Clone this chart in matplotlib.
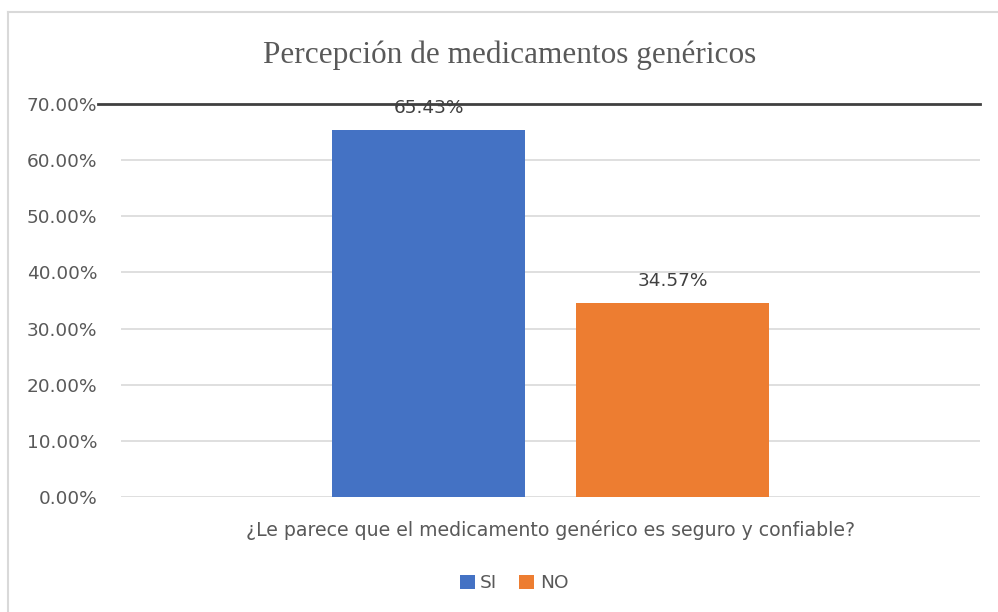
import matplotlib.pyplot as plt
from matplotlib.patches import Patch
from matplotlib.lines import Line2D

# data
series = ['SI', 'NO']
values = [65.43, 34.57]
colors = ['#4472C4', '#ED7D31']
yticks = [0, 10, 20, 30, 40, 50, 60, 70]
title = 'Percepción de medicamentos genéricos'
category = '¿Le parece que el medicamento genérico es seguro y confiable?'

W, H = 998, 612
fig = plt.figure(figsize=(W/100, H/100), dpi=100)
plt.rcParams['font.family'] = ['DejaVu Sans']

# plot area in pixels: x 121..980, y 104 (70%)..497 (0%)
ax = fig.add_axes([121/W, (H-497)/H, (980-121)/W, (497-104)/H])

# bars in units of bar width: gap between the two bars is ~0.264 width
bw = 1.0
offs = [-(0.5 + 0.132), 0.5 + 0.132]
for off, v, c in zip(offs, values, colors):
    b = ax.bar(off, v, width=bw, color=c, zorder=3)
    ax.bar_label(b, labels=[f'{v:.2f}%'], padding=9, fontsize=13.3, color='#404040')

ax.set_xlim(-2.225, 2.225)
ax.set_ylim(0, 70)
ax.set_yticks(yticks)
ax.set_yticklabels([f'{t:.2f}%' for t in yticks])
ax.set_xticks([])
ax.tick_params(axis='y', length=0, pad=17, labelsize=13.3, labelcolor='#595959')
ax.yaxis.grid(True, color='#D9D9D9', lw=1.2, zorder=0)
for s in ax.spines.values():
    s.set_visible(False)

# dark line across the top at 70%
ax.axhline(70, xmin=-23/859, xmax=1.0, color='#404040', lw=2, clip_on=False, zorder=4)

fig.text(510/W, 1 - 55/H, title, ha='center', va='center',
         fontsize=22.5, color='#595959', family='Liberation Serif')
fig.text((121+980)/2/W, 1 - 530/H, category, ha='center', va='center',
         fontsize=13.6, color='#595959')

handles = [Patch(facecolor=c, label=s) for s, c in zip(series, colors)]
fig.legend(handles=handles, loc='center', bbox_to_anchor=(514/W, 1 - 583/H), ncol=2,
           frameon=False, fontsize=13.3, labelcolor='#595959', handlelength=0.8,
           handleheight=0.8, handletextpad=0.3, columnspacing=1.2)

# outer chart border (only left and top edges fall inside the image)
fig.add_artist(Line2D([8/W, 8/W], [0, 1 - 11.5/H], transform=fig.transFigure,
                      color='#D9D9D9', lw=1.5))
fig.add_artist(Line2D([8/W, 1], [1 - 11.5/H, 1 - 11.5/H], transform=fig.transFigure,
                      color='#D9D9D9', lw=1.5))

fig.savefig('out.png', dpi=100)
